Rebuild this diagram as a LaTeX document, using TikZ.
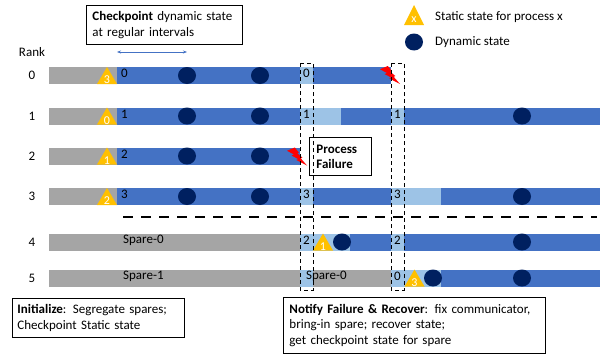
\documentclass[tikz,border=0pt]{standalone}
\usepackage{fontspec}
\setmainfont{Carlito}
\usetikzlibrary{arrows.meta}
\definecolor{cgray}{HTML}{A5A5A5}
\definecolor{cblue}{HTML}{4472C4}
\definecolor{clight}{HTML}{9DC3E6}
\definecolor{cnavy}{HTML}{002060}
\definecolor{cyel}{HTML}{FFC000}
\definecolor{cred}{HTML}{FF0000}
\newcommand{\seg}[4]{\fill[#1] (#2,{#4-8.5}) rectangle (#3,{#4+8.5});}
\newcommand{\tri}[4]{\fill[cyel] (#1,{#2-8.5}) -- ({#1+10},{#2+8.5}) -- ({#1-10},{#2+8.5}) -- cycle;
  \node[tritext] (#4) at (#1,{#2+4.5}) {#3};}
\newcommand{\dyn}[2]{\fill[cnavy] (#1,#2) ellipse [x radius=9, y radius=8.5];}
\newcommand{\bolt}[2]{\fill[cred,shift={(#1,#2)}] (7.83,0) -- (0,3.27) -- (7.0,7.01) -- (4.62,8.1) -- (11.29,11.59) -- (9.25,12.45) -- (20,18) -- (13.67,10.76) -- (15.33,10.01) -- (10.21,5.7) -- (11.88,5.1) -- cycle;}
\begin{document}
\begin{tikzpicture}[x=1pt,y=-1pt,
  every node/.style={font=\fontsize{13}{16}\selectfont, inner sep=0pt},
  bartext/.style={anchor=west, font=\fontsize{13}{16}\selectfont},
  tritext/.style={text=white, font=\fontsize{12}{14}\selectfont},
  box/.style={draw=black, line width=0.9pt, anchor=north west, align=left, fill=none},
  vdash/.style={draw=black, line width=0.9pt, dash pattern=on 4pt off 3pt},
  hdash/.style={draw=black, line width=2pt, dash pattern=on 10pt off 8pt},
]
\useasboundingbox (0,0) rectangle (603,356);

% ---------- legend ----------
\fill[cyel] (414,5) -- (424,25) -- (404,25) -- cycle;
\node[tritext] (lx) at (414,20) {x};
\node[anchor=west] (lstatic) at (435,17) {Static state for process x};
\dyn{414}{42}
\node[anchor=west] (ldyn) at (435,42) {Dynamic state};

% ---------- checkpoint box ----------
\node[box, minimum width=156pt, minimum height=39pt, text width=144pt, inner xsep=6pt] (ckbox) at (86,5)
  {\textbf{Checkpoint} dynamic state\\at regular intervals};
\coordinate (ia) at (117,52);
\coordinate (ib) at (187,52);
\draw[cblue, line width=0.6pt, {Stealth[length=4pt,width=3pt]}-{Stealth[length=4pt,width=3pt]}] (ia) -- (ib);

% ---------- rank labels ----------
\node (rank) at (32,52) {Rank};
\node (r0) at (32,75.5) {0};
\node (r1) at (32,116) {1};
\node (r2) at (32,156) {2};
\node (r3) at (32,196.5) {3};
\node (r4) at (32,242) {4};
\node (r5) at (32,278) {5};

% ---------- row 0 ----------
\seg{cgray}{49}{117}{75.5}
\seg{cblue}{117}{300}{75.5}
\seg{clight}{300}{313}{75.5}
\seg{cblue}{313}{391}{75.5}
\tri{107}{75.5}{3}{t0}
\node[bartext] (n0a) at (121,73.5) {0};
\node[bartext] (n0b) at (303,73.5) {0};
\dyn{187}{75.5}\dyn{260}{75.5}
\bolt{380}{66}

% ---------- row 1 ----------
\seg{cgray}{49}{117}{116}
\seg{cblue}{117}{300}{116}
\seg{clight}{300}{341}{116}
\seg{cblue}{341}{391}{116}
\seg{clight}{391}{404}{116}
\seg{cblue}{404}{600}{116}
\tri{107}{116}{0}{t1}
\node[bartext] (n1a) at (121,114) {1};
\node[bartext] (n1b) at (303,114) {1};
\node[bartext] (n1c) at (394,114) {1};
\dyn{187}{116}\dyn{260}{116}\dyn{522}{116}

% ---------- row 2 ----------
\seg{cgray}{49}{117}{156}
\seg{cblue}{117}{300}{156}
\tri{107}{156}{1}{t2}
\node[bartext] (n2a) at (121,154) {2};
\dyn{187}{156}\dyn{260}{156}
\bolt{287}{147.5}

% ---------- row 3 ----------
\seg{cgray}{49}{117}{196.5}
\seg{cblue}{117}{300}{196.5}
\seg{clight}{300}{313}{196.5}
\seg{cblue}{313}{391}{196.5}
\seg{clight}{391}{441}{196.5}
\seg{cblue}{441}{600}{196.5}
\tri{107}{196.5}{2}{t3}
\node[bartext] (n3a) at (121,194.5) {3};
\node[bartext] (n3b) at (303,194.5) {3};
\node[bartext] (n3c) at (394,194.5) {3};
\dyn{187}{196.5}\dyn{260}{196.5}\dyn{522}{196.5}

% ---------- separator ----------
\coordinate (sa) at (123,217);
\coordinate (sb) at (597,217);
\draw[hdash] (sa) -- (sb);

% ---------- row 4 ----------
\seg{cgray}{49}{300}{242}
\seg{clight}{300}{350}{242}
\seg{cblue}{350}{391}{242}
\seg{clight}{391}{404}{242}
\seg{cblue}{404}{600}{242}
\node[bartext] (s40) at (123,240) {Spare-0};
\node[bartext] (n4a) at (303,240) {2};
\node[bartext] (n4b) at (394,240) {2};
\tri{323}{242}{1}{t4}
\dyn{342}{242}\dyn{522}{242}

% ---------- row 5 ----------
\seg{cgray}{49}{391}{278}
\seg{clight}{300}{313}{278}
\seg{clight}{391}{441}{278}
\seg{cblue}{441}{600}{278}
\node[bartext] (s51) at (123,276) {Spare-1};
\node[bartext] (s50) at (306,276) {Spare-0};
\node[bartext] (n5a) at (394,276) {0};
\tri{414.5}{278}{3}{t5}
\dyn{433}{278}\dyn{522}{278}

% ---------- dashed recovery windows ----------
\draw[vdash] (300,63) rectangle (313,290);
\draw[vdash] (391,63) rectangle (404,290);

% ---------- process failure box ----------
\node[box, minimum width=55pt, minimum height=38pt, text width=48pt, inner xsep=7pt, font=\bfseries\fontsize{13}{15}\selectfont] (pfbox) at (309,137)
  {Process\\Failure};

% ---------- initialize box ----------
\node[box, minimum width=167pt, minimum height=39pt, text width=162pt, inner xsep=5pt] (initbox) at (12,298)
  {\textbf{Initialize}: Segregate spares;\\Checkpoint Static state};

% ---------- notify box ----------
\node[box, minimum width=256pt, minimum height=56pt, text width=250pt, inner xsep=6pt, font=\fontsize{13}{15.5}\selectfont] (notbox) at (283,297)
  {\textbf{Notify Failure \& Recover}: fix communicator,\\bring-in spare; recover state;\\get checkpoint state for spare};
\end{tikzpicture}
\end{document}
